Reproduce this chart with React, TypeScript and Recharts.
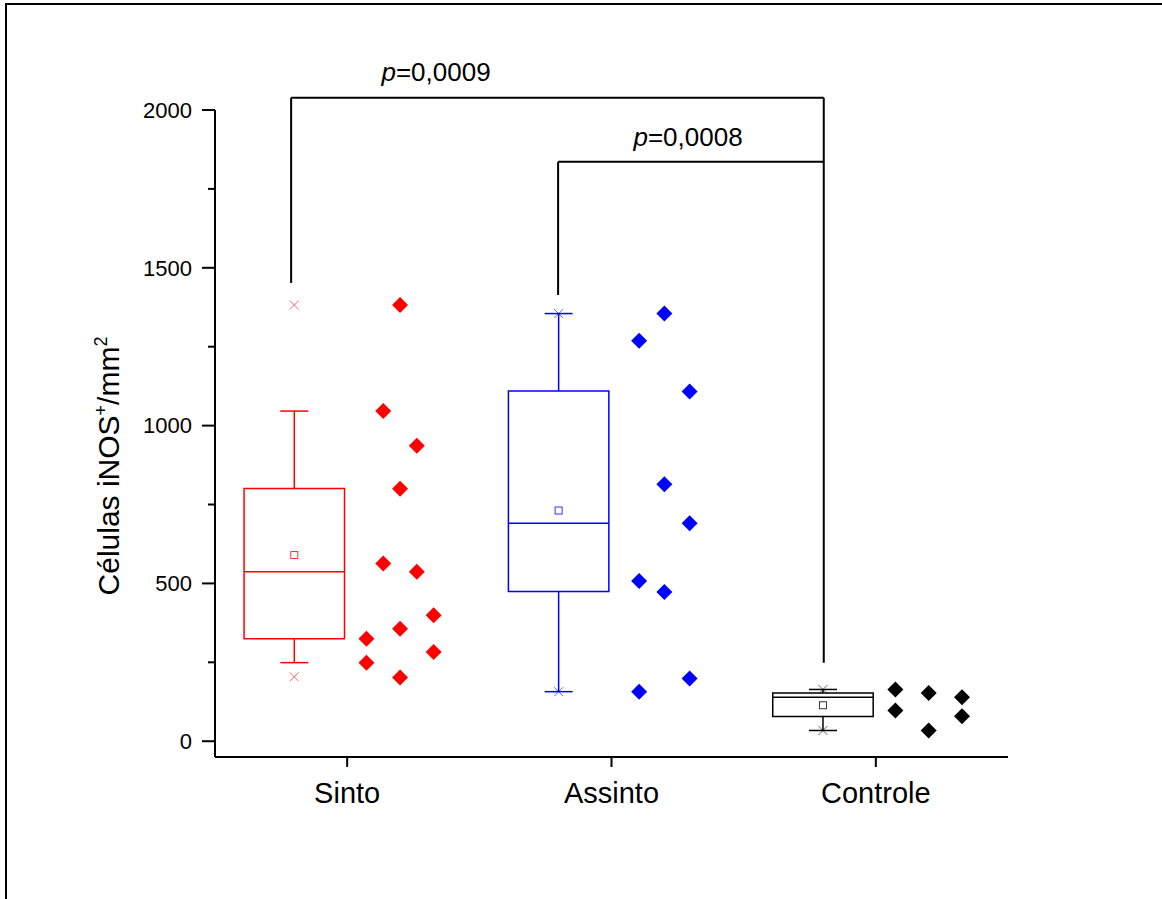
import React from "react";
import { ScatterChart, Scatter, XAxis, YAxis, ReferenceArea, ReferenceLine } from "recharts";

const categories = ["Sinto", "Assinto", "Controle"];
const colors = ["#ff0000", "#0000ff", "#000000"];

// box statistics per group (Sinto, Assinto, Controle)
const q1 = [325, 474, 78];
const medians = [537, 691, 139];
const q3 = [801, 1110, 153];
const means = [590, 731, 114];
const whiskerLow = [249, 157, 34];
const whiskerHigh = [1046, 1355, 164];
const minValues = [204, 157, 34];
const maxValues = [1382, 1355, 164];

// individual values, and the column each diamond sits in
const sintoValues = [1382, 1046, 936, 800, 563, 537, 399, 356, 325, 283, 249, 202];
const sintoCols = [2, 1, 3, 2, 1, 3, 4, 2, 0, 4, 0, 2];
const assintoValues = [1355, 1269, 1108, 814, 691, 508, 473, 199, 157];
const assintoCols = [1, 0, 2, 1, 2, 0, 1, 2, 0];
const controleValues = [164, 97, 153, 34, 139, 79];
const controleCols = [0, 0, 1, 1, 2, 2];

const yTicks = [0, 250, 500, 750, 1000, 1250, 1500, 1750, 2000];
const xTicks = [1, 2, 3];
const pLabels = ["0,0009", "0,0008"];

const FONT = "'Liberation Sans', Arial, Helvetica, sans-serif";
const BOX_OFFSET = -0.2;
const BOX_HALF = 0.19;
const CAP_HALF = 0.053;
const colStep = [0.0635, 0.0955, 0.126];

const groupValues = [sintoValues, assintoValues, controleValues];
const groupCols = [sintoCols, assintoCols, controleCols];

const pointData = groupValues.map((vals, g) => {
  const cols = groupCols[g];
  const n = Math.max(...cols) + 1;
  return vals.map((v, i) => ({ x: g + 1 - BOX_OFFSET + (cols[i] - (n - 1) / 2) * colStep[g], y: v }));
});

const Diamond = (color: string) => (p: any) => {
  const { cx, cy } = p;
  const r = 8;
  return <polygon points={`${cx},${cy - r} ${cx + r},${cy} ${cx},${cy + r} ${cx - r},${cy}`} fill={color} />;
};

const MeanSquare = (color: string) => (p: any) => (
  <rect x={p.cx - 3.5} y={p.cy - 3.5} width={7} height={7} fill="#fff" stroke={color} strokeWidth={1} opacity={0.8} />
);

const Cross = (color: string) => (p: any) => {
  const { cx, cy } = p;
  const r = 4.5;
  return (
    <g stroke={color} strokeWidth={1} opacity={0.6}>
      <line x1={cx - r} y1={cy - r} x2={cx + r} y2={cy + r} />
      <line x1={cx - r} y1={cy + r} x2={cx + r} y2={cy - r} />
    </g>
  );
};

const YTick = (props: any) => {
  const { x, y, payload } = props;
  const major = payload.value % 500 === 0;
  const len = major ? 13 : 7;
  return (
    <g>
      <line x1={x - len} x2={x} y1={y} y2={y} stroke="#000" strokeWidth={2} />
      {major && (
        <text x={x - 23} y={y} dy="0.35em" textAnchor="end" fontSize={22} fontFamily={FONT} fill="#000">
          {payload.value}
        </text>
      )}
    </g>
  );
};

export default function App() {
  const boxes = categories.map((_, g) => {
    const c = g + 1 + BOX_OFFSET;
    const col = colors[g];
    return (
      <React.Fragment key={g}>
        <ReferenceArea x1={c - BOX_HALF} x2={c + BOX_HALF} y1={q1[g]} y2={q3[g]} fill="none" stroke={col} strokeWidth={1.5} ifOverflow="visible" />
        <ReferenceLine segment={[{ x: c - BOX_HALF, y: medians[g] }, { x: c + BOX_HALF, y: medians[g] }]} stroke={col} strokeWidth={1.5} />
        <ReferenceLine segment={[{ x: c, y: q3[g] }, { x: c, y: whiskerHigh[g] }]} stroke={col} strokeWidth={1.5} />
        <ReferenceLine segment={[{ x: c, y: q1[g] }, { x: c, y: whiskerLow[g] }]} stroke={col} strokeWidth={1.5} />
        <ReferenceLine segment={[{ x: c - CAP_HALF, y: whiskerHigh[g] }, { x: c + CAP_HALF, y: whiskerHigh[g] }]} stroke={col} strokeWidth={1.5} />
        <ReferenceLine segment={[{ x: c - CAP_HALF, y: whiskerLow[g] }, { x: c + CAP_HALF, y: whiskerLow[g] }]} stroke={col} strokeWidth={1.5} />
      </React.Fragment>
    );
  });

  // significance brackets
  const bx = [0.788, 1.798, 2.803];
  const bracket = { top1: 2039, top2: 1836, low1: 1452, low2: 1414, low3: 249 };

  return (
    <div style={{ position: "relative", width: 1162, height: 899, overflow: "hidden", background: "#fff", fontFamily: FONT }}>
      <style>{"body{margin:0}"}</style>
      <div style={{ position: "absolute", left: 5, top: 3, width: 3000, height: 3000, borderTop: "2px solid #000", borderLeft: "2px solid #000" }} />
      <ScatterChart width={1162} height={899} margin={{ top: 110, right: 154, bottom: 82, left: 115 }}>
        <XAxis
          type="number"
          dataKey="x"
          domain={[0.5, 3.5]}
          ticks={xTicks}
          interval={0}
          allowDataOverflow
          height={60}
          tickSize={10}
          tickMargin={15}
          tickFormatter={(v: number) => categories[v - 1]}
          axisLine={{ stroke: "#000", strokeWidth: 2 }}
          tickLine={{ stroke: "#000", strokeWidth: 2 }}
          tick={{ fontSize: 29, fill: "#000", fontFamily: FONT }}
        />
        <YAxis
          type="number"
          dataKey="y"
          domain={[-50, 2000]}
          ticks={yTicks}
          interval={0}
          allowDataOverflow
          width={100}
          tickSize={0}
          tickMargin={0}
          tickLine={false}
          axisLine={{ stroke: "#000", strokeWidth: 2 }}
          tick={(p: any) => <YTick {...p} />}
        />
        {boxes}
        <ReferenceLine segment={[{ x: bx[0], y: bracket.low1 }, { x: bx[0], y: bracket.top1 }]} stroke="#000" strokeWidth={2} ifOverflow="visible" />
        <ReferenceLine segment={[{ x: bx[0], y: bracket.top1 }, { x: bx[2], y: bracket.top1 }]} stroke="#000" strokeWidth={2} ifOverflow="visible" />
        <ReferenceLine segment={[{ x: bx[2], y: bracket.top1 }, { x: bx[2], y: bracket.low3 }]} stroke="#000" strokeWidth={2} ifOverflow="visible" />
        <ReferenceLine segment={[{ x: bx[1], y: bracket.low2 }, { x: bx[1], y: bracket.top2 }]} stroke="#000" strokeWidth={2} ifOverflow="visible" />
        <ReferenceLine segment={[{ x: bx[1], y: bracket.top2 }, { x: bx[2], y: bracket.top2 }]} stroke="#000" strokeWidth={2} ifOverflow="visible" />
        {categories.map((name, g) => (
          <Scatter key={name} name={name} data={pointData[g]} shape={Diamond(colors[g])} isAnimationActive={false} />
        ))}
        {categories.map((name, g) => (
          <Scatter key={name + "-mean"} data={[{ x: g + 1 + BOX_OFFSET, y: means[g] }]} shape={MeanSquare(colors[g])} isAnimationActive={false} />
        ))}
        {categories.map((name, g) => (
          <Scatter
            key={name + "-minmax"}
            data={[{ x: g + 1 + BOX_OFFSET, y: minValues[g] }, { x: g + 1 + BOX_OFFSET, y: maxValues[g] }]}
            shape={Cross(colors[g])}
            isAnimationActive={false}
          />
        ))}
      </ScatterChart>
      <svg width={1162} height={899} style={{ position: "absolute", left: 0, top: 0, pointerEvents: "none" }}>
        <text x={436} y={81} textAnchor="middle" fontSize={26} fontFamily={FONT} fill="#000">
          <tspan fontStyle="italic">p</tspan>={pLabels[0]}
        </text>
        <text x={688} y={146} textAnchor="middle" fontSize={26} fontFamily={FONT} fill="#000">
          <tspan fontStyle="italic">p</tspan>={pLabels[1]}
        </text>
        <text transform="translate(119,466) rotate(-90)" textAnchor="middle" fontSize={30} fontFamily={FONT} fill="#000">
          Células iNOS<tspan fontSize={18} dy={-12}>+</tspan>
          <tspan dy={12}>/mm</tspan>
          <tspan fontSize={18} dy={-12}>2</tspan>
        </text>
      </svg>
    </div>
  );
}
